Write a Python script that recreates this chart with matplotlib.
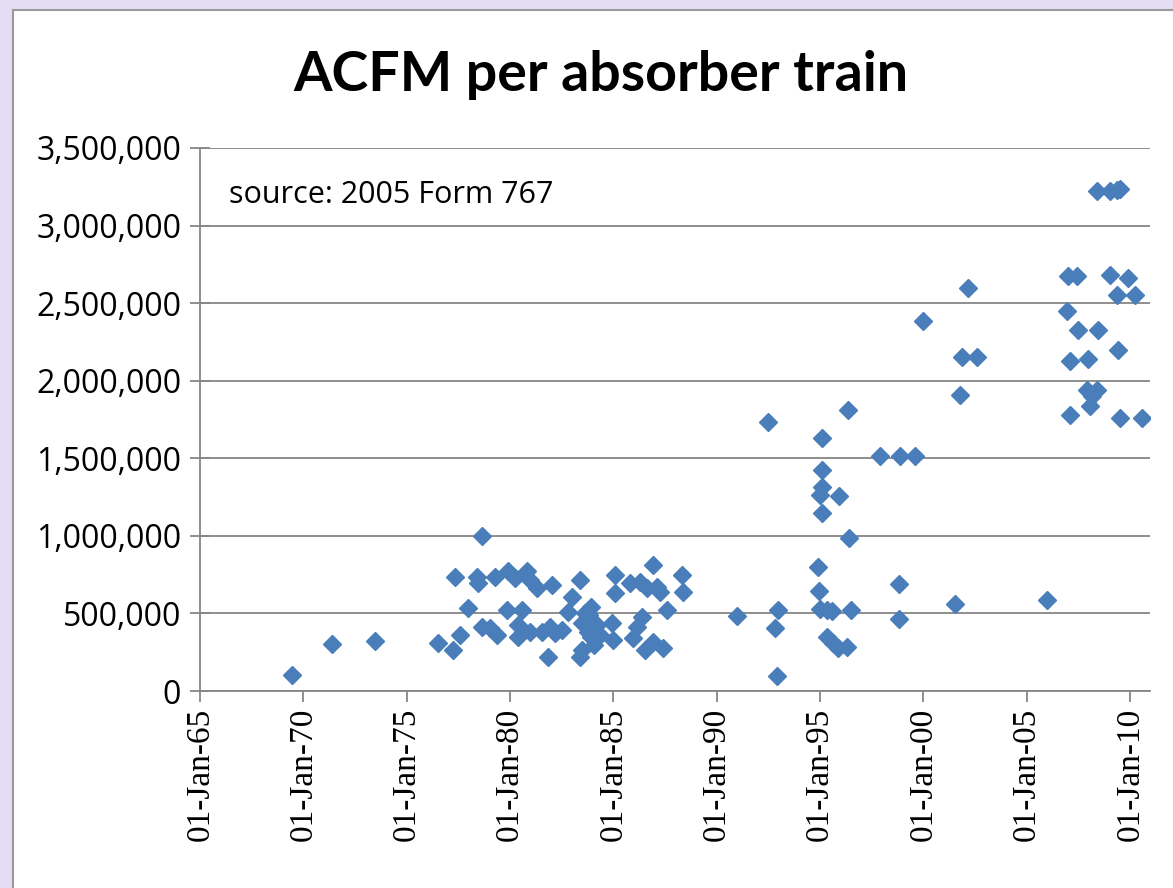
import datetime as dt

import matplotlib
matplotlib.use("Agg")
import matplotlib.pyplot as plt
import matplotlib.dates as mdates
from matplotlib.patches import Rectangle
from matplotlib.ticker import FuncFormatter

# install date (decimal year) and ACFM per absorber train
years_early = [1969.45, 1971.37, 1973.47]
acfm_early = [100000, 300000, 320000]

years_80s = [
    1978.63, 1977.34, 1978.39, 1978.47, 1979.27, 1979.92, 1980.24, 1980.81,
    1980.97, 1981.29, 1982.02, 1983.39, 1982.98, 1985.08, 1985.08, 1985.81,
    1986.29, 1986.61, 1987.10, 1987.26, 1986.93, 1988.31, 1988.39,
    1977.98, 1979.84, 1980.57, 1982.82, 1983.94, 1987.58,
    1976.53, 1977.26, 1977.58, 1978.63, 1979.03, 1979.36, 1980.40, 1980.40,
    1980.97, 1981.53, 1981.94, 1982.18, 1982.50, 1983.47, 1983.79, 1984.20,
    1984.35, 1984.92, 1985.00, 1985.97, 1986.13, 1986.37, 1986.53, 1986.93,
    1987.42, 1981.85, 1983.39, 1983.47, 1983.94, 1983.63, 1983.80, 1984.05,
]
acfm_80s = [
    1000000, 735000, 735000, 695000, 733000, 776000, 727000, 776000,
    716000, 662000, 684000, 716000, 608000, 748000, 630000, 695000,
    705000, 662000, 673000, 640000, 813000, 748000, 640000,
    533000, 523000, 523000, 512000, 544000, 523000,
    308000, 265000, 361000, 415000, 405000, 361000, 426000, 350000,
    383000, 383000, 415000, 372000, 394000, 437000, 383000, 426000,
    361000, 437000, 329000, 340000, 415000, 479000, 265000, 318000,
    275000, 221000, 221000, 265000, 350000, 501000, 490000, 297000,
]

years_90s = [
    1990.96, 1992.50, 1992.98, 1992.82, 1992.90,
    1995.08, 1995.08, 1995.08, 1995.00, 1995.90, 1995.08, 1996.40, 1996.36,
    1994.90, 1994.97, 1995.00, 1995.32, 1995.56, 1996.50,
    1995.32, 1995.64, 1995.89, 1996.30,
    1997.90, 1998.87, 1999.60, 1998.82, 1998.82,
]
acfm_90s = [
    484000, 1737000, 523000, 404000, 97000,
    1630000, 1426000, 1318000, 1265000, 1258000, 1150000, 985000, 1813000,
    802000, 647000, 529000, 523000, 518000, 523000,
    350000, 308000, 275000, 286000,
    1516000, 1516000, 1516000, 690000, 462000,
]

years_00s = [
    2000.00, 2002.18, 2001.86, 2002.58, 2001.77, 2001.53, 2005.97,
    2007.01, 2007.42, 2009.03, 2009.92, 2009.35, 2010.24, 2006.94,
    2007.50, 2008.46, 2009.43, 2007.10, 2007.98, 2007.90, 2008.38,
    2008.14, 2008.06, 2007.10, 2009.52, 2010.56,
    2008.39, 2009.03, 2009.35, 2009.52,
]
acfm_00s = [
    2387000, 2598000, 2153000, 2153000, 1910000, 561000, 587000,
    2677000, 2677000, 2684000, 2663000, 2555000, 2555000, 2447000,
    2325000, 2325000, 2200000, 2125000, 2140000, 1942000, 1942000,
    1899000, 1835000, 1781000, 1760000, 1760000,
    3221000, 3221000, 3232000, 3237000,
]

x_ticks = [1965, 1970, 1975, 1980, 1985, 1990, 1995, 2000, 2005, 2010]
y_ticks = [0, 500000, 1000000, 1500000, 2000000, 2500000, 3000000, 3500000]


def to_date(y):
    yr = int(y)
    return dt.datetime(yr, 1, 1) + dt.timedelta(days=(y - yr) * 365.25)


years = years_early + years_80s + years_90s + years_00s
acfm = acfm_early + acfm_80s + acfm_90s + acfm_00s
dates = [to_date(y) for y in years]

W, H = 1173, 888
fig = plt.figure(figsize=(W / 100, H / 100), dpi=100)
fig.patch.set_facecolor("#e4ddf4")

# white chart area with grey border
fig.patches.append(Rectangle((13 / W, -0.05), 1.2, 1 - 10 / H + 0.05,
                             transform=fig.transFigure, facecolor="white",
                             edgecolor="#9a9a9a", linewidth=1.5, zorder=-5))

ax = fig.add_axes([200 / W, (H - 691) / H, 950 / W, (691 - 148) / H])
ax.set_facecolor("none")

ax.plot(dates, acfm, linestyle="none", marker="D", markersize=9,
        color="#4a7ebb", markeredgecolor="#4a7ebb", zorder=3)

ax.set_xlim(dt.datetime(1965, 1, 1), dt.datetime(2010, 12, 20))
ax.set_ylim(0, 3500000)

ax.set_xticks([dt.datetime(y, 1, 1) for y in x_ticks])
ax.xaxis.set_major_formatter(mdates.DateFormatter("%d-%b-%y"))
ax.set_yticks(y_ticks)
ax.yaxis.set_major_formatter(FuncFormatter(lambda v, p: f"{v:,.0f}"))

grey = "#868686"
ax.grid(axis="y", color=grey, linewidth=1.3, zorder=1)
ax.set_axisbelow(True)
for side in ["top", "right"]:
    ax.spines[side].set_visible(False)
for side in ["left", "bottom"]:
    ax.spines[side].set_color(grey)
    ax.spines[side].set_linewidth(1.3)

ax.tick_params(axis="y", direction="inout", length=15, width=1.3, color=grey,
               pad=6, labelsize=23, labelcolor="black")
ax.tick_params(axis="x", direction="out", length=8, width=1.3, color=grey,
               pad=4, labelsize=24, labelrotation=90, labelcolor="black")
for lbl in ax.get_yticklabels():
    lbl.set_family("Open Sans")
for lbl in ax.get_xticklabels():
    lbl.set_family("Liberation Serif")

fig.text(0.512, 1 - 75 / H, "ACFM per absorber train", ha="center",
         va="center", fontsize=40, fontweight="bold", family="Lato")
fig.text(229 / W, 1 - 195 / H, "source: 2005 Form 767", ha="left",
         va="center", fontsize=22, family="Open Sans")

fig.savefig("out.png", dpi=100, facecolor=fig.get_facecolor())
